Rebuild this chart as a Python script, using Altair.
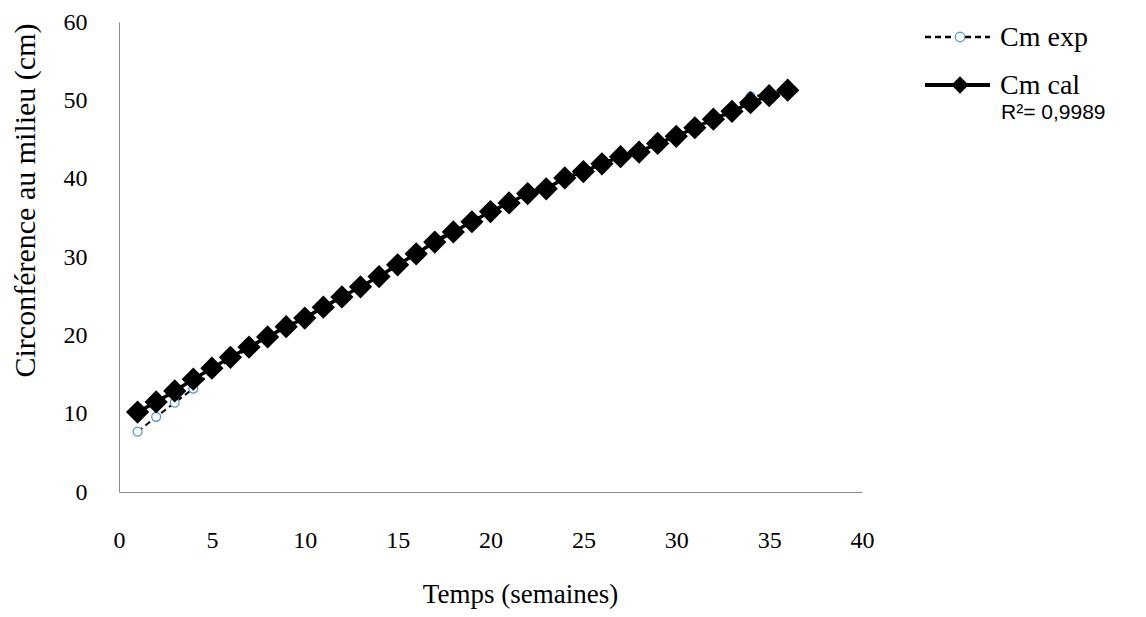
import altair as alt
import pandas as pd

# ---- data ----
weeks = list(range(1, 37))
cm_cal = [10.2, 11.5, 12.9, 14.4, 15.8, 17.2, 18.5, 19.8, 21.1, 22.2, 23.6, 24.9,
          26.2, 27.5, 29.0, 30.4, 31.9, 33.2, 34.5, 35.8, 36.9, 38.1, 38.7, 40.1,
          40.9, 41.9, 42.8, 43.4, 44.5, 45.4, 46.5, 47.6, 48.6, 49.7, 50.6, 51.3]
cm_exp = [7.7, 9.6, 11.4, 13.2, 15.4, 16.9, 18.4, 19.8, 21.0, 22.2, 23.7, 25.0,
          26.2, 27.6, 29.0, 30.4, 32.2, 33.3, 34.5, 35.7, 36.8, 38.0, 38.8, 40.0,
          41.0, 41.9, 42.9, 43.5, 44.4, 45.3, 46.6, 47.5, 48.5, 50.5, 50.7, 51.2]
series_names = ["Cm exp", "Cm cal"]
x_ticks = [0, 5, 10, 15, 20, 25, 30, 35, 40]
y_ticks = [0, 10, 20, 30, 40, 50, 60]
r2_text = "R\u00b2= 0,9989"

long_df = pd.DataFrame({
    "week": weeks * 2,
    "value": cm_exp + cm_cal,
    "series": [series_names[0]] * len(weeks) + [series_names[1]] * len(weeks),
})

SERIF = "Liberation Serif"
SANS = "Liberation Sans"
AXIS_GRAY = "#8c8c8c"

x_enc = alt.X(
    "week:Q",
    scale=alt.Scale(domain=[0, 40], nice=False, zero=False),
    axis=alt.Axis(
        values=x_ticks, grid=False, ticks=False, domainColor=AXIS_GRAY,
        labelFont=SERIF, labelFontSize=24, labelColor="black", labelPadding=36,
        labelBaseline="top", labelFlush=False,
        title="Temps (semaines)", titleFont=SERIF, titleFontSize=27,
        titleFontWeight="normal", titleColor="black",
        titleX=401, titleY=110, titleAlign="center", titleBaseline="alphabetic",
    ),
)
y_enc = alt.Y(
    "value:Q",
    scale=alt.Scale(domain=[0, 60], nice=False),
    axis=alt.Axis(
        values=y_ticks, grid=False, ticks=False, domainColor=AXIS_GRAY,
        labelFont=SERIF, labelFontSize=24, labelColor="black", labelPadding=32,
        labelFlush=False,
        title="Circonférence au milieu (cm)", titleFont=SERIF, titleFontSize=30,
        titleFontWeight="normal", titleColor="black",
        titleX=-79, titleY=178, titleAlign="center", titleAngle=270,
    ),
)

base = alt.Chart(long_df)
exp_f = alt.datum.series == series_names[0]
cal_f = alt.datum.series == series_names[1]

exp_line = base.transform_filter(exp_f).mark_line(
    color="black", strokeDash=[6, 4], strokeWidth=2).encode(x=x_enc, y=y_enc)
exp_pts = base.transform_filter(exp_f).mark_point(
    shape="circle", size=80, filled=True, fill="white", stroke="#5b9bd5",
    strokeWidth=1.3, opacity=1).encode(x=x_enc, y=y_enc)
cal_line = base.transform_filter(cal_f).mark_line(
    color="black", strokeWidth=3.5).encode(x=x_enc, y=y_enc)
cal_pts = base.transform_filter(cal_f).mark_point(
    shape="diamond", size=540, filled=True, color="black", opacity=1).encode(x=x_enc, y=y_enc)

# ---- legend (decorations) ----
one = pd.DataFrame({"k": [0]})
leg_exp_line = alt.Chart(one).mark_rule(color="black", strokeDash=[6, 4], strokeWidth=2.5).encode(
    x=alt.value(806), x2=alt.value(871), y=alt.value(15))
leg_exp_pt = alt.Chart(one).mark_point(
    shape="circle", size=90, filled=True, fill="white", stroke="#5b9bd5",
    strokeWidth=1.3, opacity=1).encode(x=alt.value(841), y=alt.value(15))
leg_exp_txt = alt.Chart(one).mark_text(
    text=series_names[0], font=SERIF, fontSize=28, align="left", baseline="middle",
    color="black").encode(x=alt.value(881), y=alt.value(16))
leg_cal_line = alt.Chart(one).mark_rule(color="black", strokeWidth=4).encode(
    x=alt.value(806), x2=alt.value(871), y=alt.value(63))
leg_cal_pt = alt.Chart(one).mark_point(
    shape="diamond", size=300, filled=True, color="black", opacity=1).encode(
    x=alt.value(841), y=alt.value(63))
leg_cal_txt = alt.Chart(one).mark_text(
    text=series_names[1], font=SERIF, fontSize=28, align="left", baseline="middle",
    color="black").encode(x=alt.value(881), y=alt.value(64))
r2 = alt.Chart(one).mark_text(
    text=r2_text, font=SANS, fontSize=21, align="left", baseline="middle",
    color="black").encode(x=alt.value(882), y=alt.value(91))

chart = alt.layer(
    exp_line, exp_pts, cal_line, cal_pts,
    leg_exp_line, leg_exp_pt, leg_exp_txt, leg_cal_line, leg_cal_pt, leg_cal_txt, r2,
).properties(
    width=743, height=470,
    autosize=alt.AutoSizeParams(type="none"),
    padding={"left": 111, "top": 14, "right": 276, "bottom": 117},
    background="white",
).configure_view(stroke=None)

chart.save("out.html", embed_options={"renderer": "svg", "actions": False})
